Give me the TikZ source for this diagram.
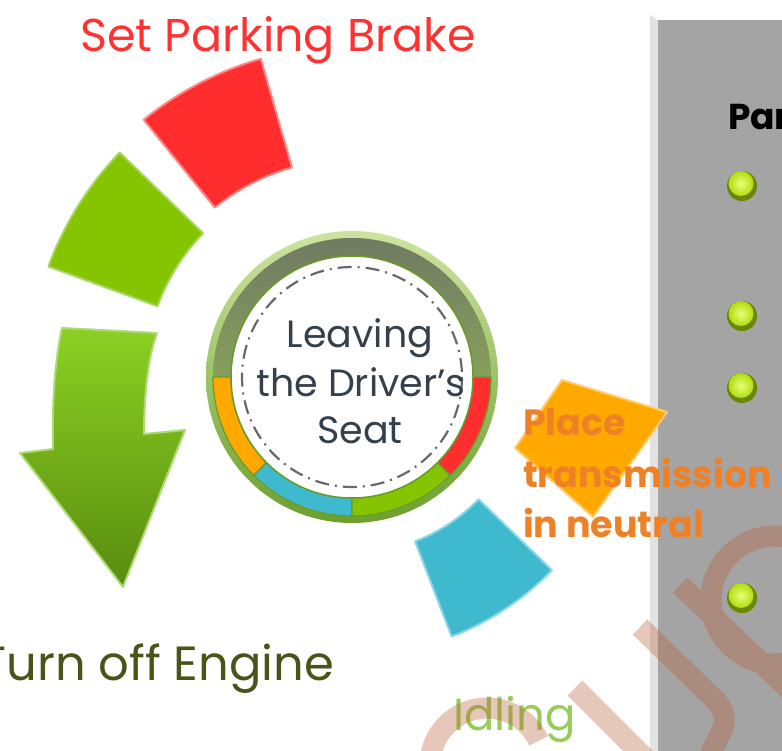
\documentclass[tikz,border=0pt]{standalone}
\usepackage{fontspec}
\setmainfont{Poppins}
\usetikzlibrary{calc}
\definecolor{wred}{RGB}{255,45,45}
\definecolor{wredb}{RGB}{255,135,135}
\definecolor{wgreen}{RGB}{133,196,0}
\definecolor{wgreenb}{RGB}{165,215,95}
\definecolor{wteal}{RGB}{62,185,206}
\definecolor{wtealb}{RGB}{140,215,230}
\definecolor{worange}{RGB}{255,168,0}
\definecolor{worangeb}{RGB}{255,205,110}
\definecolor{arrtop}{RGB}{140,208,35}
\definecolor{arrbot}{RGB}{88,140,15}
\definecolor{arrb}{RGB}{175,218,115}
\definecolor{ttred}{RGB}{255,50,50}
\definecolor{ttolive}{RGB}{72,84,24}
\definecolor{ttidle}{RGB}{150,205,90}
\definecolor{ttplace}{RGB}{238,128,38}
\definecolor{ttcirc}{RGB}{52,64,76}
\definecolor{ringtop}{RGB}{205,228,160}
\definecolor{ringbot}{RGB}{108,160,45}
\definecolor{bandtop}{RGB}{112,122,98}
\definecolor{bandbot}{RGB}{135,160,92}
\definecolor{sepgreen}{RGB}{105,155,40}
\definecolor{dashgray}{RGB}{105,105,105}
\definecolor{panellight}{RGB}{226,226,226}
\definecolor{panelgray}{RGB}{164,164,164}
\definecolor{limedark}{RGB}{105,135,0}
\definecolor{limemid}{RGB}{178,220,15}
\definecolor{limelight}{RGB}{232,255,120}
\definecolor{wmark}{RGB}{185,95,55}
\newcommand{\annsec}[4]{(C) ++(#1:#3) arc[start angle=#1,end angle=#2,radius=#3] -- ($(C)+(#2:#4)$) arc[start angle=#2,end angle=#1,radius=#4] -- cycle}
\newcommand{\limeball}[1]{\fill[limedark] #1 circle (15); \shade[inner color=limelight, outer color=limemid] ($#1+(-1,-2.5)$) circle (12.5);}
\tikzset{
  lbl/.style={inner sep=0pt, outer sep=0pt},
  segline/.style={draw=sepgreen, line width=1.2pt},
  wm/.style={draw=wmark, line width=21pt, line cap=butt},
}
\begin{document}
\begin{tikzpicture}[x=1pt,y=-1pt,line join=round]
\useasboundingbox (0,0) rectangle (782,751);
\clip (0,0) rectangle (782,751);
\fill[white] (0,0) rectangle (782,751);

% side panel
\fill[panellight] (650,15) -- (658,20) -- (658,751) -- (650,751) -- cycle;
\fill[panelgray] (658,20) rectangle (782,751);

\coordinate (C) at (352,377);

% flying wedges
\fill[wred, draw=wredb, line width=2pt] \annsec{231}{254}{218}{331};
\fill[wgreen, draw=wgreenb, line width=2pt] \annsec{200}{224}{207}{323};
\fill[wteal, draw=wtealb, line width=2pt] \annsec{44}{69}{176}{278};
\fill[worange, draw=worangeb, line width=2pt] (515,448) -- (562,380) -- (667,412) -- (593,517) -- cycle;

% big arrow
\shade[top color=arrtop, bottom color=arrbot, draw=arrb, line width=2pt]
  (62,328) -- (157,333) .. controls (147,360) and (144,400) .. (144,434)
  -- (185,430) -- (123,587) -- (20,453) -- (53,449)
  .. controls (52,400) and (55,360) .. cycle;

% central dial
\shade[top color=ringtop, bottom color=ringbot] (C) circle (146);
\shade[top color=bandtop, bottom color=bandbot] \annsec{180}{360}{121}{139};
\fill[worange, segline] \annsec{135}{180}{121}{139};
\fill[wteal, segline] \annsec{90}{135}{121}{139};
\fill[wgreen, segline] \annsec{45}{90}{121}{139};
\fill[wred, segline] \annsec{0}{45}{121}{139};
\fill[white, draw=sepgreen, line width=1.5pt] (C) circle (121);
\draw[dashgray, line width=2.2pt, dash pattern=on 14pt off 6pt on 2pt off 6pt] (C) circle (110);

\node[lbl, anchor=base, text=ttcirc, font=\fontsize{38}{46}\selectfont] (t1) at (360,348) {Leaving};
\node[lbl, anchor=base, text=ttcirc, font=\fontsize{38}{46}\selectfont] (t2) at (361,396) {the Driver’s};
\node[lbl, anchor=base, text=ttcirc, font=\fontsize{38}{46}\selectfont] (t3) at (360,443) {Seat};

% labels
\node[lbl, anchor=base west, text=ttred, font=\fontsize{46}{54}\selectfont] (brake) at (80,52) {Set Parking Brake};
\node[lbl, anchor=base east, text=ttolive, font=\fontsize{48}{56}\selectfont] (engine) at (334,680) {Turn off Engine};
\node[lbl, anchor=base west, text=ttidle, font=\fontsize{45}{54}\selectfont] (idle) at (453,730) {Idling};
\node[lbl, anchor=base west, text=ttplace, font=\bfseries\fontsize{36.5}{44}\selectfont] (p1) at (523,435) {Place};
\node[lbl, anchor=base west, text=ttplace, font=\bfseries\fontsize{36.5}{44}\selectfont] (p2) at (523,487) {transmission};
\node[lbl, anchor=base west, text=ttplace, font=\bfseries\fontsize{36.5}{44}\selectfont] (p3) at (523,537) {in neutral};
\node[lbl, anchor=base west, text=black, font=\bfseries\fontsize{36}{44}\selectfont] (par) at (728,130) {Par};

% bullets
\limeball{(742,186)}
\limeball{(742,316)}
\limeball{(742,388)}
\limeball{(742,598)}

% watermark
\begin{scope}[transparency group, opacity=0.35]
\draw[wm] (575,688) -- (660,773);
\draw[wm] (640,627) -- (712,697) .. controls (740,724) and (712,735) .. (708,765);
\draw[wm] (680,585) -- (800,700);
\draw[wm] (775,600) circle (64);
\draw[wm] (487,765) ++(190:57) arc[start angle=190, end angle=335, radius=57];
\end{scope}
\end{tikzpicture}
\end{document}
